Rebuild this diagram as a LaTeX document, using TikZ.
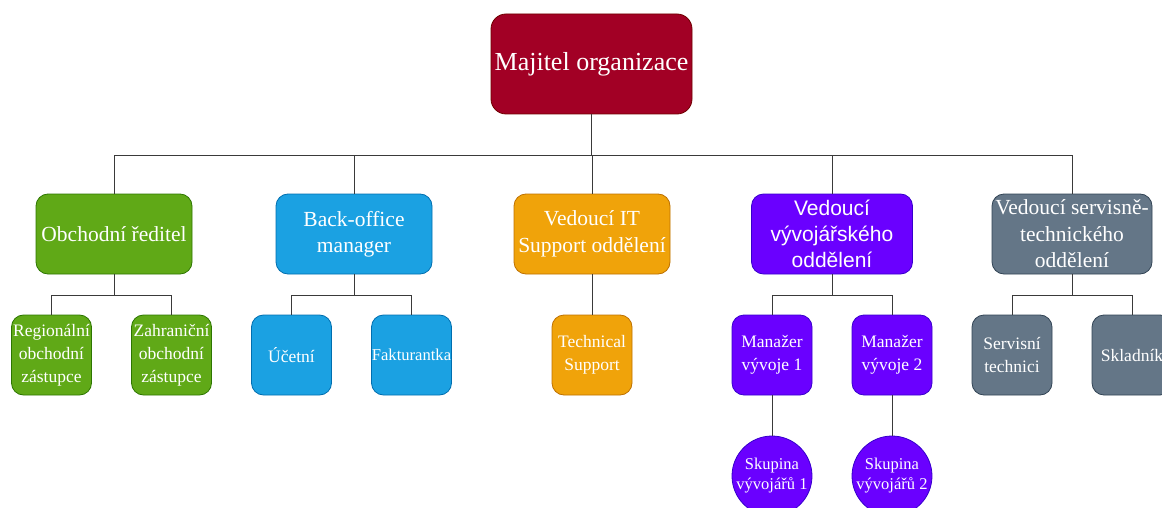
\documentclass[tikz,border=0pt]{standalone}
\usepackage{fontspec}
\setmainfont{Liberation Serif}
\newfontfamily\arialfont{Liberation Sans}
\definecolor{ownerfill}{HTML}{A20025}\definecolor{ownerline}{HTML}{6F0000}
\definecolor{greenfill}{HTML}{60A917}\definecolor{greenline}{HTML}{2D7600}
\definecolor{bluefill}{HTML}{1BA1E2}\definecolor{blueline}{HTML}{006EAF}
\definecolor{orangefill}{HTML}{F0A30A}\definecolor{orangeline}{HTML}{BD7000}
\definecolor{violetfill}{HTML}{6A00FF}\definecolor{violetline}{HTML}{3700CC}
\definecolor{slatefill}{HTML}{647687}\definecolor{slateline}{HTML}{314354}
\definecolor{linkgray}{HTML}{3A3A3A}
\begin{document}
\begin{tikzpicture}[x=1pt,y=-1pt,
  base/.style={rectangle, line width=0.8pt, text=white, align=center, inner sep=0pt},
  ownerbox/.style={base, minimum width=201, minimum height=100, rounded corners=15,
    fill=ownerfill, draw=ownerline, font=\fontsize{26}{30}\selectfont},
  headbox/.style={base, minimum width=156, minimum height=80, rounded corners=12,
    font=\fontsize{21.5}{26.5}\selectfont},
  staffbox/.style={base, minimum width=80, minimum height=80, rounded corners=12,
    font=\fontsize{17.5}{23}\selectfont},
  teambox/.style={base, shape=circle, minimum size=80,
    font=\fontsize{16.5}{20}\selectfont},
  green/.style={fill=greenfill, draw=greenline},
  blue/.style={fill=bluefill, draw=blueline},
  orange/.style={fill=orangefill, draw=orangeline},
  violet/.style={fill=violetfill, draw=violetline},
  slate/.style={fill=slatefill, draw=slateline},
  link/.style={draw=linkgray, line width=0.9pt}]
\useasboundingbox (0,0) rectangle (1162,508);
\clip (0,0) rectangle (1162,508);

% owner
\node[ownerbox] (owner) at (591.5,64) {Majitel organizace};

% department heads
\node[headbox, green]  (sales)   at (114,234)   {Obchodní ředitel};
\node[headbox, blue]   (office)  at (354,234)   {Back-office\\manager};
\node[headbox, orange] (it)      at (592,234)   {Vedoucí IT\\Support oddělení};
\node[headbox, violet, minimum width=161, font=\arialfont\fontsize{21}{26}\selectfont]
                       (dev)     at (832,234)   {Vedoucí\\vývojářského\\oddělení};
\node[headbox, slate, minimum width=160] (service) at (1072,234)
                                                {Vedoucí servisně-\\technického\\oddělení};

% staff
\node[staffbox, green]  (regional) at (51.5,355)  {Regionální\\obchodní\\zástupce};
\node[staffbox, green]  (foreign)  at (171.5,355) {Zahraniční\\obchodní\\zástupce};
\node[staffbox, blue]   (account)  at (291.5,355) {Účetní};
\node[staffbox, blue, font=\fontsize{16.6}{23}\selectfont]
                        (invoice)  at (411.5,355) {Fakturantka};
\node[staffbox, orange] (support)  at (592,355)   {Technical\\Support};
\node[staffbox, violet] (devmgr1)  at (772,355)   {Manažer\\vývoje 1};
\node[staffbox, violet] (devmgr2)  at (892,355)   {Manažer\\vývoje 2};
\node[staffbox, slate]  (techs)    at (1012,355)  {Servisní\\technici};
\node[staffbox, slate]  (store)    at (1132,355)  {Skladník};

% developer teams
\node[teambox, violet] (team1) at (772,476) {Skupina\\vývojářů 1};
\node[teambox, violet] (team2) at (892,476) {Skupina\\vývojářů 2};

% connector levels
\coordinate (busA) at (0,155);
\coordinate (busB) at (0,295);

\foreach \c in {sales,office,it,dev,service}
  \draw[link] (owner.south) -- (owner.south |- busA) -| (\c.north);

\foreach \p/\c in {sales/regional,sales/foreign,office/account,office/invoice,
                   dev/devmgr1,dev/devmgr2,service/techs,service/store}
  \draw[link] (\p.south) -- (\p.south |- busB) -| (\c.north);

\draw[link] (it.south) -- (support.north);
\draw[link] (devmgr1.south) -- (team1.north);
\draw[link] (devmgr2.south) -- (team2.north);
\end{tikzpicture}
\end{document}
